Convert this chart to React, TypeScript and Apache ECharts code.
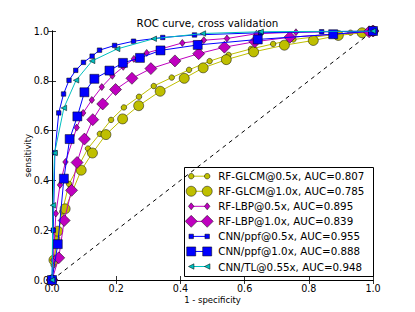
import React, { useEffect, useRef } from "react";
import * as echarts from "echarts";

const titleText = "ROC curve, cross validation";
const xName = "1 - specificity";
const yName = "sensitivity";

const seriesNames = [
  "RF-GLCM@0.5x, AUC=0.807",
  "RF-GLCM@1.0x, AUC=0.785",
  "RF-LBP@0.5x, AUC=0.895",
  "RF-LBP@1.0x, AUC=0.839",
  "CNN/ppf@0.5x, AUC=0.955",
  "CNN/ppf@1.0x, AUC=0.888",
  "CNN/TL@0.55x, AUC=0.948",
];

const glcm05: [number, number][] = [
  [0, 0], [0.005, 0.06], [0.016, 0.168], [0.032, 0.275], [0.053, 0.386], [0.112, 0.528],
  [0.149, 0.587], [0.184, 0.643], [0.224, 0.693], [0.271, 0.736], [0.317, 0.779],
  [0.373, 0.813], [0.427, 0.844], [0.491, 0.879], [0.55, 0.904], [0.62, 0.928],
  [0.689, 0.948], [0.752, 0.966], [0.93, 0.993], [1, 1],
];
const glcm10: [number, number][] = [
  [0, 0], [0.006, 0.08], [0.018, 0.196], [0.041, 0.286], [0.091, 0.441], [0.126, 0.51],
  [0.168, 0.584], [0.22, 0.647], [0.27, 0.7], [0.337, 0.758], [0.412, 0.81],
  [0.471, 0.852], [0.543, 0.885], [0.628, 0.916], [0.724, 0.943], [0.814, 0.962],
  [0.892, 0.982], [0.966, 0.993], [1, 1],
];
const lbp05: [number, number][] = [
  [0, 0], [0.004, 0.08], [0.012, 0.267], [0.025, 0.382], [0.042, 0.474], [0.077, 0.612],
  [0.097, 0.671], [0.124, 0.723], [0.155, 0.775], [0.188, 0.82], [0.222, 0.856],
  [0.255, 0.888], [0.295, 0.912], [0.406, 0.952], [0.473, 0.963], [0.545, 0.97],
  [0.637, 0.989], [0.76, 0.995], [1, 1],
];
const lbp10: [number, number][] = [
  [0, 0], [0.021, 0.089], [0.038, 0.239], [0.061, 0.36], [0.078, 0.472], [0.101, 0.566],
  [0.127, 0.644], [0.158, 0.707], [0.198, 0.765], [0.249, 0.81], [0.308, 0.849],
  [0.383, 0.88], [0.457, 0.909], [0.537, 0.935], [0.632, 0.957], [0.741, 0.975],
  [0.988, 0.997], [1, 1],
];
const ppf05: [number, number][] = [
  [0, 0], [0.004, 0.2], [0.009, 0.511], [0.021, 0.671], [0.036, 0.747], [0.053, 0.802],
  [0.074, 0.842], [0.098, 0.874], [0.125, 0.899], [0.148, 0.923], [0.195, 0.942],
  [0.254, 0.959], [0.345, 0.974], [0.444, 0.984], [0.65, 0.993], [0.84, 0.997], [1, 1],
];
const ppf10: [number, number][] = [
  [0, 0], [0.018, 0.144], [0.037, 0.407], [0.055, 0.566], [0.079, 0.657], [0.101, 0.754],
  [0.132, 0.808], [0.179, 0.841], [0.221, 0.872], [0.274, 0.892], [0.338, 0.922],
  [0.454, 0.944], [0.641, 0.966], [0.876, 0.987], [1, 1],
];
const tl055: [number, number][] = [
  [0, 0], [0.003, 0.3], [0.008, 0.51], [0.037, 0.691], [0.075, 0.802], [0.125, 0.88],
  [0.203, 0.928], [0.317, 0.969], [0.47, 0.99], [0.65, 0.997], [1, 1],
];
const diagonal: [number, number][] = [[0, 0], [1, 1]];

const seriesData = [glcm05, glcm10, lbp05, lbp10, ppf05, ppf10, tl055];

type Sty = { color: string; symbol: string; size: number | [number, number]; rotate?: number };
const styles: Sty[] = [
  { color: "#bfbf00", symbol: "circle", size: 5.5 },
  { color: "#bfbf00", symbol: "circle", size: 10 },
  { color: "#bf00bf", symbol: "diamond", size: [5.5, 7] },
  { color: "#bf00bf", symbol: "diamond", size: [12, 12] },
  { color: "#0000ff", symbol: "rect", size: 4.5 },
  { color: "#0000ff", symbol: "rect", size: 9 },
  { color: "#00bfbf", symbol: "triangle", size: 5.5, rotate: 90 },
];

const FONT = "DejaVu Sans";

function markerGraphic(s: Sty, cx: number, cy: number): any {
  const w = Array.isArray(s.size) ? s.size[0] : s.size;
  const h = Array.isArray(s.size) ? s.size[1] : s.size;
  const style = { fill: s.color, stroke: "#000", lineWidth: 0.5 };
  if (s.symbol === "circle") return { type: "circle", shape: { cx, cy, r: w / 2 }, style };
  if (s.symbol === "rect") return { type: "rect", shape: { x: cx - w / 2, y: cy - h / 2, width: w, height: h }, style };
  if (s.symbol === "diamond")
    return {
      type: "polygon",
      shape: { points: [[cx, cy - h / 2], [cx + w / 2, cy], [cx, cy + h / 2], [cx - w / 2, cy]] },
      style,
    };
  return {
    type: "polygon",
    shape: { points: [[cx - w / 2, cy], [cx + w / 2, cy - h / 2], [cx + w / 2, cy + h / 2]] },
    style,
  };
}

export default function App() {
  const ref = useRef<HTMLDivElement>(null);
  useEffect(() => {
    document.body.style.margin = "0";
    const chart = echarts.init(ref.current!, null, { renderer: "svg" });

    const gl = { left: 52, top: 31, width: 321, height: 249 };

    const axisCommon = {
      type: "value" as const,
      min: 0,
      max: 1,
      interval: 0.2,
      splitLine: { show: false },
      axisLine: { show: true, lineStyle: { color: "#000", width: 1 } },
      axisTick: { show: true, inside: true, length: 4, lineStyle: { color: "#000", width: 0.8 } },
    };

    const series: any[] = [
      {
        type: "line",
        data: diagonal,
        symbol: "none",
        lineStyle: { color: "#000", width: 1, type: [4, 4] },
        silent: true,
        z: 1,
      },
    ];
    seriesData.forEach((d, i) => {
      const s = styles[i];
      series.push({
        name: seriesNames[i],
        type: "line",
        data: d,
        symbol: s.symbol,
        symbolSize: s.size,
        symbolRotate: s.rotate || 0,
        showSymbol: true,
        showAllSymbol: true,
        lineStyle: { color: s.color, width: 1 },
        itemStyle: { color: s.color, borderColor: "#000", borderWidth: 0.5 },
        z: 2 + i,
      });
    });

    const lx = 184, ly = 167, lw = 189, lh = 109;
    const legendChildren: any[] = [
      { type: "rect", shape: { x: 0, y: 0, width: lw, height: lh }, style: { fill: "#fff", stroke: "#000", lineWidth: 1 } },
    ];
    seriesNames.forEach((name, i) => {
      const cy = 8.7 + i * 15.05;
      const s = styles[i];
      legendChildren.push({ type: "line", shape: { x1: 6.7, y1: cy, x2: 22.7, y2: cy }, style: { stroke: s.color, lineWidth: 1 } });
      legendChildren.push(markerGraphic(s, 6.7, cy));
      legendChildren.push(markerGraphic(s, 22.7, cy));
      legendChildren.push({
        type: "text",
        x: 33.7,
        y: cy,
        style: { text: name, fill: "#000", font: `10.3px '${FONT}'`, verticalAlign: "middle" },
      });
    });

    const option: any = {
      animation: false,
      backgroundColor: "#fff",
      textStyle: { fontFamily: FONT },
      title: {
        text: titleText,
        left: "center",
        top: 18,
        textStyle: { fontSize: 10.3, fontWeight: "normal", color: "#000", fontFamily: FONT },
        padding: 0,
      },
      grid: { ...gl, show: false },
      xAxis: [
        {
          ...axisCommon,
          position: "bottom",
          name: xName,
          nameLocation: "middle",
          nameGap: 15,
          nameMoveOverlap: false,
          nameTextStyle: { fontSize: 8.5, color: "#000", fontFamily: FONT },
          axisLabel: { show: true, fontSize: 9.6, color: "#000", margin: 3, fontFamily: FONT, formatter: (v: number) => v.toFixed(1) },
        },
        {
          ...axisCommon,
          position: "top",
          axisLabel: { show: false },
        },
      ],
      yAxis: [
        {
          ...axisCommon,
          position: "left",
          name: yName,
          nameLocation: "middle",
          nameGap: 20,
          nameMoveOverlap: false,
          nameTextStyle: { fontSize: 8.5, color: "#000", fontFamily: FONT },
          axisLabel: { show: true, fontSize: 9.6, color: "#000", margin: 3, fontFamily: FONT, formatter: (v: number) => v.toFixed(1) },
        },
        {
          ...axisCommon,
          position: "right",
          axisLabel: { show: false },
        },
      ],
      series,
      graphic: [{ type: "group", left: lx, top: ly, z: 100, children: legendChildren }],
    };
    chart.setOption(option);
    return () => chart.dispose();
  }, []);
  return <div ref={ref} style={{ width: 415, height: 312 }} />;
}
